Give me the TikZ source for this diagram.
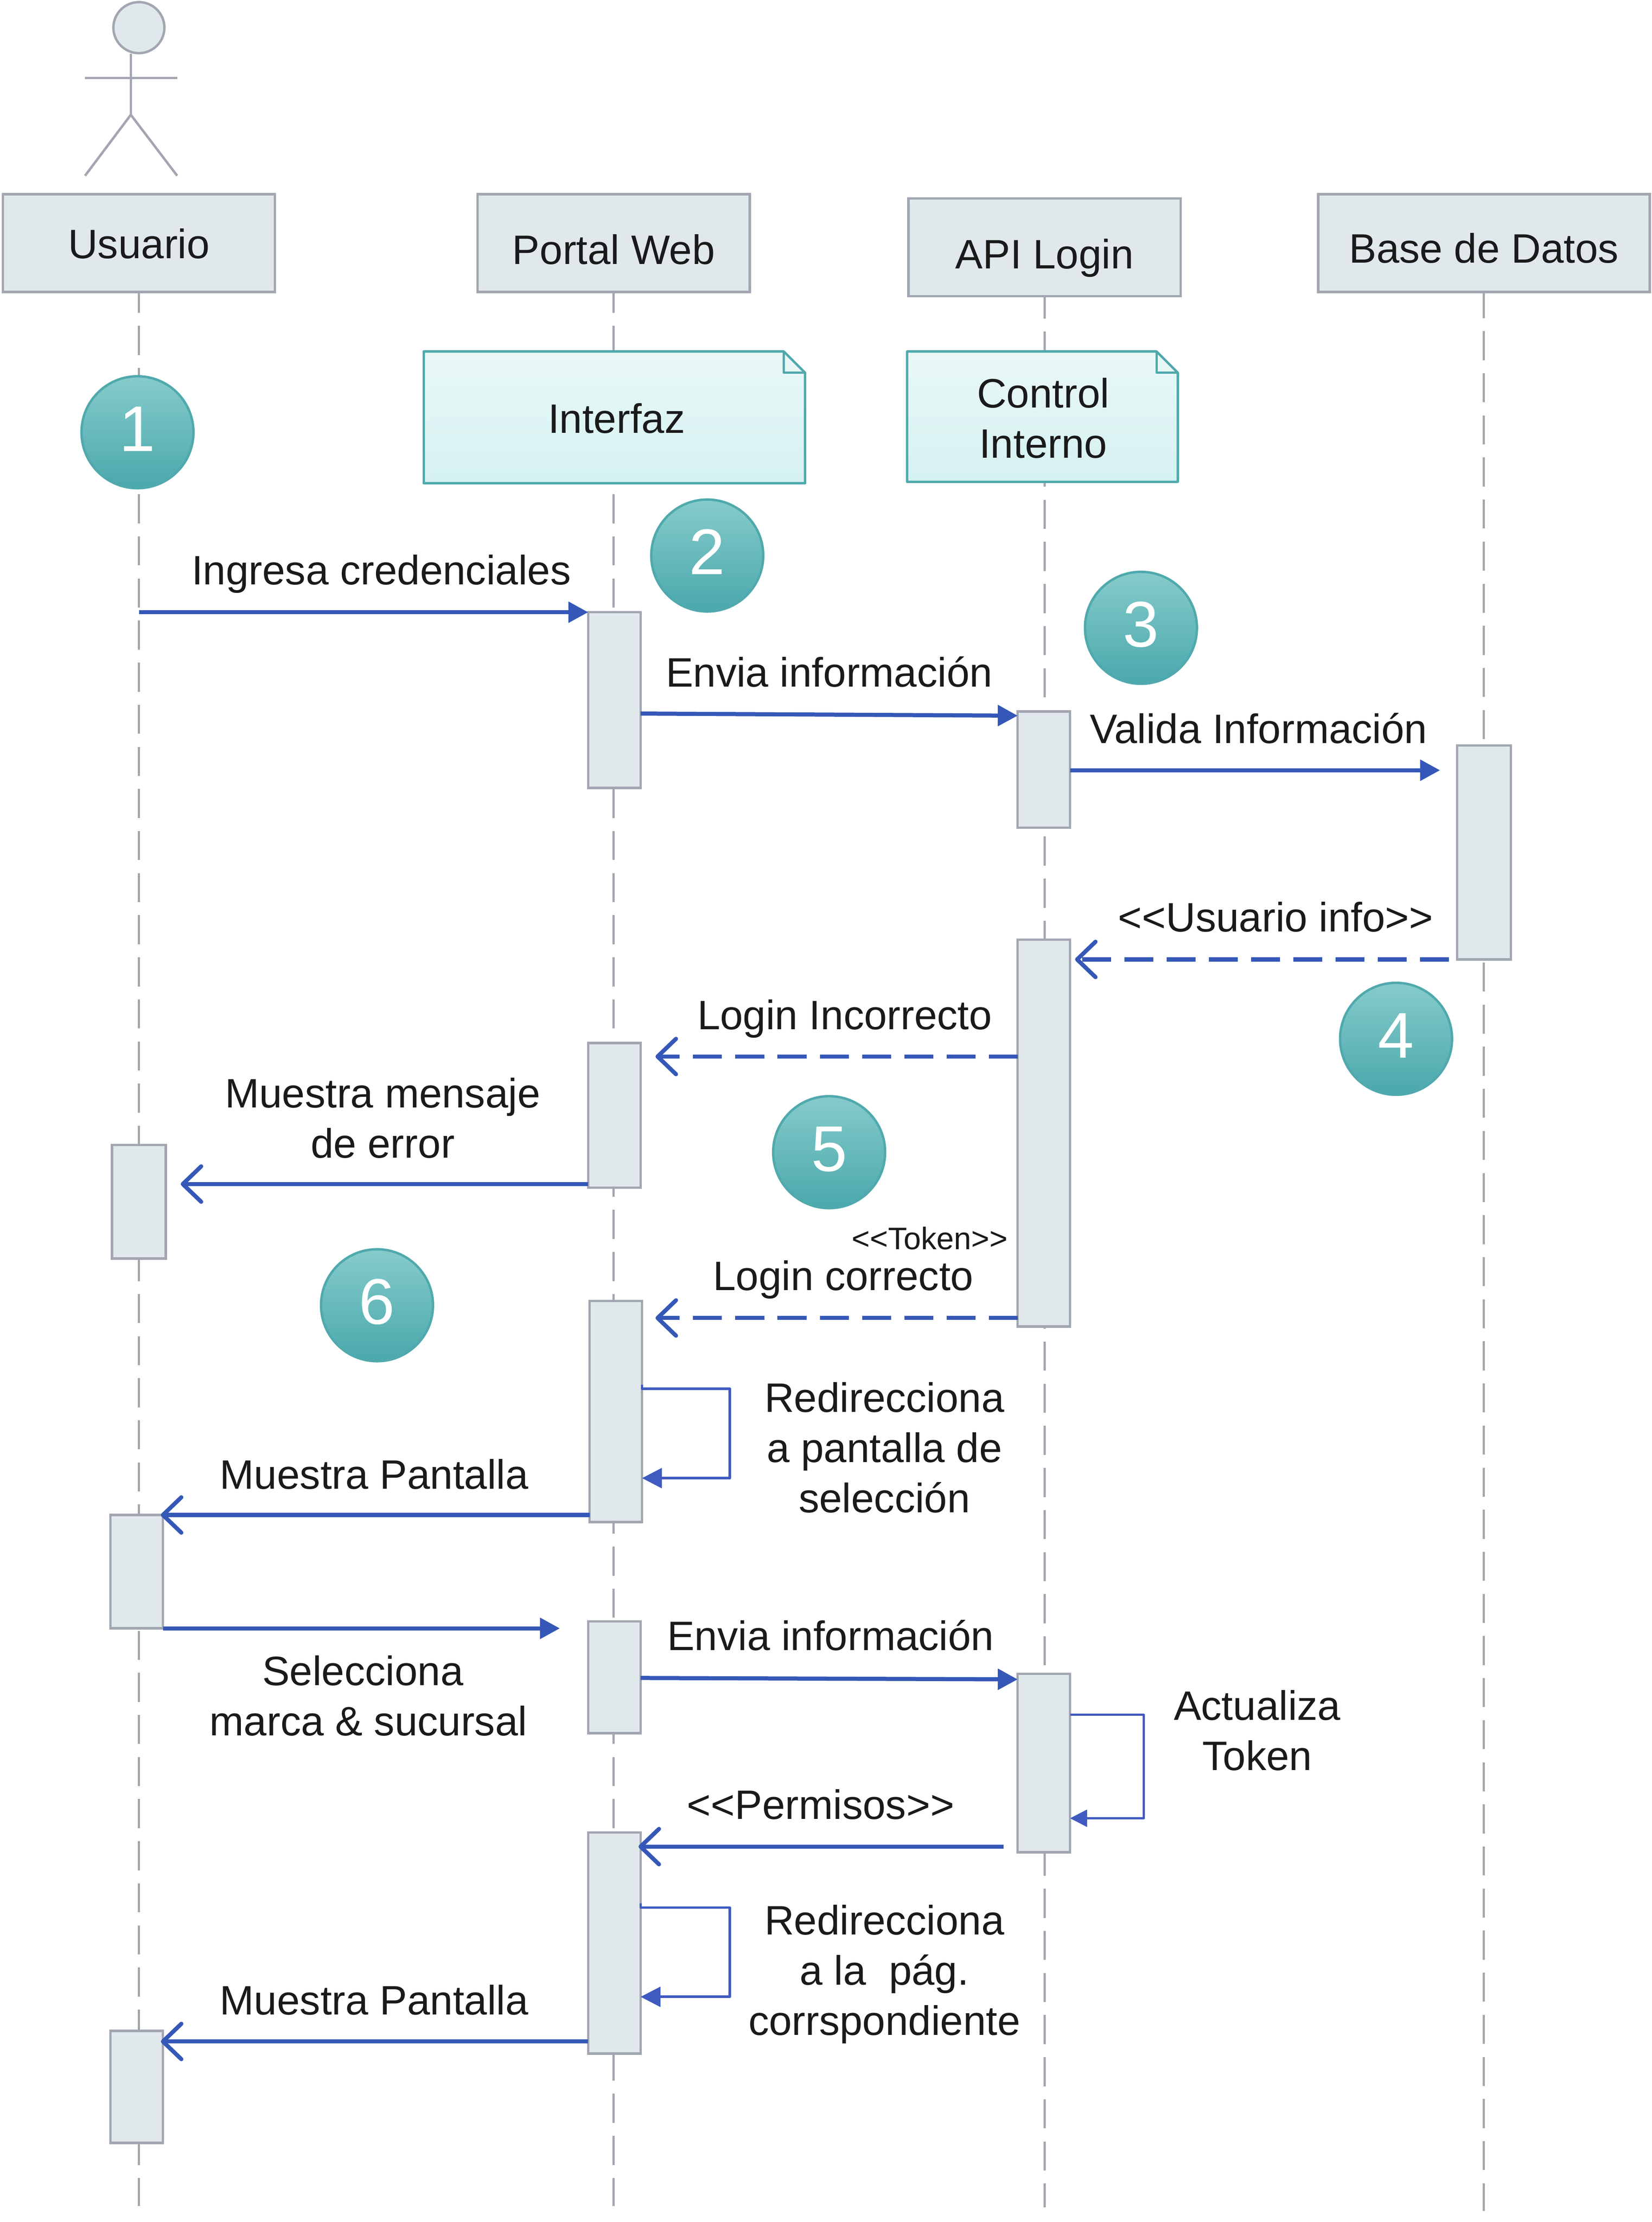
\documentclass[tikz,border=0pt]{standalone}
\usepackage{fontspec}
\setmainfont{Liberation Sans}
\usetikzlibrary{arrows.meta}
\definecolor{edge}{HTML}{A1A6B1}
\definecolor{boxfill}{HTML}{E1E8EC}
\definecolor{msgblue}{HTML}{3558B8}
\definecolor{loopblue}{HTML}{3F5BC0}
\definecolor{teal}{HTML}{4FA9AD}
\definecolor{badgetop}{HTML}{86CBCB}
\definecolor{badgebot}{HTML}{4AA8AB}
\definecolor{notetop}{HTML}{E9F8F7}
\definecolor{notebot}{HTML}{D5F1F1}
\definecolor{ink}{HTML}{1A1A1A}
\pgfdeclarelayer{bg}
\pgfsetlayers{bg,main}
\tikzset{
  x=0.5pt,y=-0.5pt,
  every node/.style={inner sep=0pt,outer sep=0pt,text=ink},
  lbl/.style={font=\fontsize{14.5}{17.75}\selectfont,align=center},
  one/.style={lbl,text height=13.5pt,text depth=3pt},
  small/.style={font=\fontsize{11}{13}\selectfont,text height=10pt,text depth=2.4pt},
  header/.style={draw=edge,fill=boxfill,line width=0.85pt},
  activ/.style={draw=edge,fill=boxfill,line width=0.85pt},
  lifeline/.style={draw=edge,line width=0.8pt,dash pattern=on 10.25pt off 4.6pt},
  actorline/.style={draw=edge,line width=0.85pt},
  badge/.style={circle,draw=teal,line width=0.85pt,minimum size=39.5pt,top color=badgetop,bottom color=badgebot,
     text=white,font=\fontsize{22.8}{26}\selectfont,text height=16.4pt,text depth=3pt},
  notebox/.style={draw=teal,line width=0.85pt,top color=notetop,bottom color=notebot,line join=round},
  msg/.style={draw=msgblue,line width=1.45pt,-{Triangle[length=7pt,width=7.2pt,fill=msgblue]}},
  reply/.style={draw=msgblue,line width=1.45pt,shorten >=-0.75pt,-{Straight Barb[length=6.5pt,width=12.5pt,round]}},
  ret/.style={reply,dash pattern=on 10.2pt off 4.7pt},
  loopa/.style={draw=loopblue,line width=0.9pt,line join=round,-{Triangle[length=7pt,width=7pt,fill=loopblue]}},
  loopb/.style={draw=loopblue,line width=0.7pt,line join=round,-{Triangle[length=6pt,width=6pt,fill=loopblue]}},
}
\newcommand{\hdr}[5]{\node[header,minimum width={(#3-#2)*0.5pt},minimum height={(#5-#4)*0.5pt}] (#1) at ({(#2+#3)/2},{(#4+#5)/2}) {};}
\newcommand{\actbox}[5]{\node[activ,minimum width={(#3-#2)*0.5pt},minimum height={(#5-#4)*0.5pt}] (#1) at ({(#2+#3)/2},{(#4+#5)/2}) {};}
\begin{document}
\begin{tikzpicture}
\useasboundingbox (0,0) rectangle (1165.5,1567.9);

% headers
\hdr{hU}{2}{194}{137}{206}
\hdr{hP}{337}{529}{137}{206}
\hdr{hA}{641}{833}{140}{209}
\hdr{hB}{930}{1164}{137}{206}
\node[one] (tU) at (98,172) {Usuario};
\node[one] (tP) at (433,176) {Portal Web};
\node[one] (tA) at (737,179) {API Login};
\node[one] (tB) at (1047,175) {Base de Datos};

% lifelines
\coordinate (eU) at (98,1556.5);
\coordinate (eP) at (433,1556.5);
\coordinate (eA) at (737,1557.5);
\coordinate (eB) at (1047,1560);
\begin{pgfonlayer}{bg}
\fill[white] (0,0) rectangle (1165.5,1567.9);
\draw[lifeline,dash phase=2.85pt] (hU.south) -- (eU);
\draw[lifeline,dash phase=2.85pt] (hP.south) -- (eP);
\draw[lifeline,dash phase=2.4pt] (hA.south) -- (eA);
\draw[lifeline,dash phase=1pt] (hB.south) -- (eB);
\end{pgfonlayer}

% actor
\draw[actorline,fill=boxfill] (98,19.5) circle[radius=18];
\draw[actorline] (92.3,38) -- (92.3,81);
\draw[actorline] (60,55) -- (125,55);
\draw[actorline] (60,124) -- (92.3,81) -- (125,124);

% notes
\path[notebox] (299,248) -- (553,248) -- (568,263) -- (568,341) -- (299,341) -- cycle;
\draw[draw=teal,line width=0.85pt,line join=round] (553,248) -- (553,263) -- (568,263);
\node[one] (nI) at (435,295) {Interfaz};
\path[notebox] (640,248) -- (816,248) -- (831,263) -- (831,340) -- (640,340) -- cycle;
\draw[draw=teal,line width=0.85pt,line join=round] (816,248) -- (816,263) -- (831,263);
\node[lbl] (nC) at (736,295) {Control\\Interno};

% activations
\actbox{a1}{415}{452}{432}{556}
\actbox{a2}{718}{755}{502}{584}
\actbox{a3}{1028}{1066}{526}{677}
\actbox{a4}{718}{755}{663}{936}
\actbox{a5}{415}{452}{736}{838}
\actbox{a6}{79}{117}{808}{888}
\actbox{a7}{416}{453}{918}{1074}
\actbox{a8}{78}{115}{1069}{1149}
\actbox{a9}{415}{452}{1144}{1223}
\actbox{a10}{718}{755}{1181}{1307}
\actbox{a11}{415}{452}{1293}{1449}
\actbox{a12}{78}{115}{1433}{1512}

% badges
\node[badge] (b1) at (97,305) {1};
\node[badge] (b2) at (499,392) {2};
\node[badge] (b3) at (805,443) {3};
\node[badge] (b4) at (985,733) {4};
\node[badge] (b5) at (585,813) {5};
\node[badge] (b6) at (266,921) {6};

% free ends
\coordinate (f1) at (1016,543.5);
\coordinate (f2) at (760,677);
\coordinate (f3) at (464,745.5);
\coordinate (f4) at (129,835.5);
\coordinate (f5) at (464,930);
\coordinate (f6) at (395,1149);
\coordinate (f7) at (708,1303);

% messages
\draw[msg] (hU.south |- 0,432) -- (a1.north west);
\draw[msg] (a1.east |- 0,503.5) -- (a2.west |- 0,505);
\draw[msg] (a2.east |- f1) -- (f1);
\draw[ret,dash phase=12.1pt] (a3.south west) -- (f2);
\draw[ret] (a4.west |- f3) -- (f3);
\draw[reply] (a5.west |- f4) -- (f4);
\draw[ret] (a4.west |- f5) -- (f5);
\draw[loopa] (a7.east |- 0,977) -- (a7.east |- 0,980) -- (515,980) -- (515,1043) -- (a7.east |- 0,1043);
\draw[reply] (a7.west |- 0,1069) -- (a8.north east);
\draw[msg] (a8.south east) -- (f6);
\draw[msg] (a9.east |- 0,1184) -- (a10.west |- 0,1185);
\draw[loopb] (a10.east |- 0,1210) -- (807,1210) -- (807,1283) -- (a10.east |- 0,1283);
\draw[reply] (f7) -- (a11.north east |- f7);
\draw[loopa] (a11.east |- 0,1343) -- (a11.east |- 0,1346) -- (515,1346) -- (515,1409) -- (a11.east |- 0,1409);
\draw[reply] (a11.west |- 0,1440.5) -- (a12.east |- 0,1440.5);

% labels
\node[one] (l1) at (269,402) {Ingresa credenciales};
\node[one] (l2) at (585,474) {Envia información};
\node[one] (l3) at (888,514) {Valida Información};
\node[one] (l4) at (900,647) {<{}<Usuario info>{}>};
\node[one] (l5) at (596,716) {Login Incorrecto};
\node[lbl] (l6) at (270,789) {Muestra mensaje\\de error};
\node[small] (l7) at (656,874) {<{}<Token>{}>};
\node[one] (l8) at (595,900) {Login correcto};
\node[lbl] (l9) at (624,1021.5) {Redirecciona\\a pantalla de\\selección};
\node[one] (l10) at (264,1040) {Muestra Pantalla};
\node[lbl] (l11) at (258,1196.5) {Selecciona\hspace*{2pt}\\\hspace*{2pt}marca \& sucursal};
\node[one] (l12) at (586,1154) {Envia información};
\node[lbl] (l13) at (887,1221) {Actualiza\\Token};
\node[one] (l14) at (579,1273) {<{}<Permisos>{}>};
\node[lbl] (l15) at (624,1393) {Redirecciona\\a la\ \ pág.\\corrspondiente};
\node[one] (l16) at (264,1411) {Muestra Pantalla};
\end{tikzpicture}
\end{document}
